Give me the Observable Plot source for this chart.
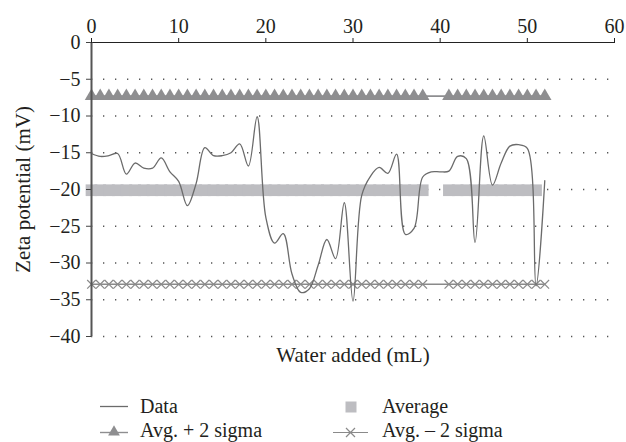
<!DOCTYPE html>
<html>
<head>
<meta charset="utf-8">
<script src="https://cdn.jsdelivr.net/npm/d3@7"></script>
<script src="https://cdn.jsdelivr.net/npm/@observablehq/plot@0.6"></script>
<style>
  html, body { margin: 0; padding: 0; background: #fff; }
  #wrap { position: relative; width: 626px; height: 442px; overflow: hidden; }
  #legend { position: absolute; left: 0; top: 376px; }
</style>
</head>
<body>
<div id="wrap">
  <div id="chart"></div>
  <svg id="legend" width="626" height="66"></svg>
</div>
<script>
// ---- data ----
const xTicks = [0, 10, 20, 30, 40, 50, 60];
const yTicks = [0, -5, -10, -15, -20, -25, -30, -35, -40];
const gridLevels = [-5, -10, -15, -20, -25, -30, -35, -40];

const dataX = [0,1,2,3,4,5,6,7,8,9,10,11,12,13,14,15,16,17,18,19,20,21,22,23,24,25,26,27,28,29,30,31,32,33,34,35,36,37,38,39,40,41,42,43,44,45,46,47,48,49,50,51,52];
const dataY = [-15.1,-15.5,-15.4,-15.1,-17.9,-16.4,-17.1,-17.1,-15.7,-17.6,-18.9,-22.2,-19.2,-14.3,-15.4,-15.4,-15.0,-13.8,-16.8,-10.1,-23.8,-27.3,-26.0,-31.5,-34.0,-33.5,-30.3,-26.8,-29.4,-21.8,-35.2,-20.8,-18.2,-17.0,-17.8,-15.2,-26.1,-25.3,-18.3,-17.6,-17.6,-17.5,-15.5,-15.8,-27.2,-12.7,-19.4,-16.4,-14.1,-13.9,-14.4,-33.1,-18.8];

const sigmaX = [0,1,2,3,4,5,6,7,8,9,10,11,12,13,14,15,16,17,18,19,20,21,22,23,24,25,26,27,28,29,30,31,32,33,34,35,36,37,38,41,42,43,44,45,46,47,48,49,50,51,52];
const averageX = [0,1,2,3,4,5,6,7,8,9,10,11,12,13,14,15,16,17,18,19,20,21,22,23,24,25,26,27,28,29,30,31,32,33,34,35,36,37,38,41,42,43,44,45,46,47,48,49,50,51];

const avgPlus2 = -7.3;
const average = -20.1;
const avgMinus2 = -32.9;

const seriesNames = ["Data", "Average", "Avg. + 2 sigma", "Avg. \u2013 2 sigma"];

// ---- tables ----
const dataRows = dataX.map((x, i) => ({x, y: dataY[i]}));
const plusRows = sigmaX.map(x => ({x, y: avgPlus2}));
const minusRows = sigmaX.map(x => ({x, y: avgMinus2}));
const avgRows = averageX.map(x => ({x, y: average}));

const FONT = "Liberation Serif";
const C = {
  data: "#6b6b6b",
  tri: "#8e8e90",
  sq: "#bdbdc1",
  cross: "#8a8a8a",
  text: "#231f20"
};

const chart = Plot.plot({
  width: 626,
  height: 376,
  marginLeft: 91,
  marginRight: 12,
  marginTop: 42,
  marginBottom: 40,
  style: {fontFamily: FONT, fontSize: "20px", color: C.text, background: "white"},
  x: {domain: [0, 60]},
  y: {domain: [-40, 0]},
  marks: [
    Plot.ruleY(gridLevels, {stroke: "#555", strokeWidth: 1.3, strokeDasharray: "1.3,10.7"}),
    Plot.dot(avgRows, {x: "x", y: "y", symbol: "square", r: 6.6, fill: C.sq, stroke: "none"}),
    Plot.line(plusRows, {x: "x", y: "y", stroke: C.tri, strokeWidth: 1.6}),
    Plot.dot(plusRows, {x: "x", y: "y", symbol: "triangle", r: 5, fill: C.tri, stroke: "none"}),
    Plot.line(minusRows, {x: "x", y: "y", stroke: C.cross, strokeWidth: 1.4}),
    Plot.dot(minusRows, {x: "x", y: "y", symbol: "times", r: 4, stroke: C.cross, strokeWidth: 1.2}),
    Plot.line(dataRows, {x: "x", y: "y", curve: "catmull-rom", stroke: C.data, strokeWidth: 1.3}),
    Plot.ruleY([0], {stroke: "#222", strokeWidth: 1}),
    Plot.ruleX([0], {stroke: "#555", strokeWidth: 2}),
    Plot.axisX({anchor: "top", ticks: xTicks, tickSize: 5, tickPadding: 5, label: null, stroke: "#222", fontFamily: FONT}),
    Plot.axisY({anchor: "left", ticks: yTicks, tickSize: 5, tickPadding: 6, label: null, stroke: "#444", fontFamily: FONT}),
    Plot.text(["Water added (mL)"], {frameAnchor: "bottom", textAnchor: "middle", lineAnchor: "middle", dy: 19, fill: C.text, fontFamily: FONT, fontSize: 21}),
    Plot.text(["Zeta potential (mV)"], {frameAnchor: "left", textAnchor: "middle", lineAnchor: "middle", rotate: -90, dx: -68, fill: C.text, fontFamily: FONT, fontSize: 21})
  ]
});
document.getElementById("chart").appendChild(chart);

// ---- legend ----
const ns = "http://www.w3.org/2000/svg";
const lg = document.getElementById("legend");
function el(tag, attrs) {
  const e = document.createElementNS(ns, tag);
  for (const k in attrs) e.setAttribute(k, attrs[k]);
  lg.appendChild(e);
  return e;
}
function label(x, y, s) {
  const t = el("text", {x, y, "font-size": 20, fill: C.text, "font-family": FONT});
  t.textContent = s;
}
// Data
el("line", {x1: 100, x2: 128, y1: 30.5, y2: 30.5, stroke: C.data, "stroke-width": 1.3});
label(140, 36.5, seriesNames[0]);
// Average
el("rect", {x: 345.5, y: 25.5, width: 11, height: 11, fill: C.sq});
label(382, 36.5, seriesNames[1]);
// Avg + 2 sigma
el("line", {x1: 100, x2: 128, y1: 56.5, y2: 56.5, stroke: C.tri, "stroke-width": 1.4});
el("path", {d: d3.symbol(d3.symbolTriangle, 60)(), transform: "translate(114,56)", fill: C.tri});
label(140, 61, seriesNames[2]);
// Avg - 2 sigma
el("line", {x1: 333, x2: 368, y1: 56.5, y2: 56.5, stroke: C.cross, "stroke-width": 1.2});
el("path", {d: "M-4.5,-4.5L4.5,4.5M-4.5,4.5L4.5,-4.5", transform: "translate(350.5,56.5)", stroke: C.cross, "stroke-width": 1.2, fill: "none"});
label(382, 61, seriesNames[3]);
</script>
</body>
</html>
